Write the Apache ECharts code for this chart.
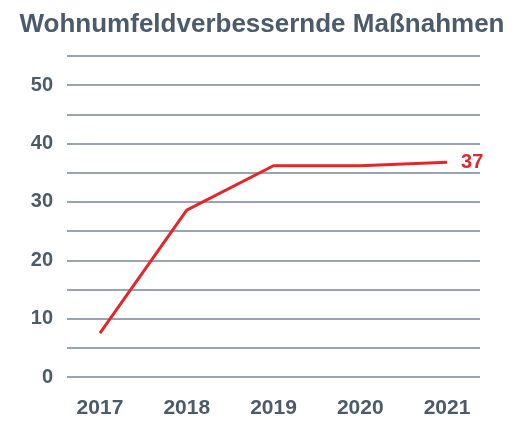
<!DOCTYPE html>
<html>
<head>
<meta charset="utf-8">
<script src="https://cdn.jsdelivr.net/npm/echarts@6/dist/echarts.min.js"></script>
<style>
html,body{margin:0;padding:0;background:#fff;}
#main{width:524px;height:421px;}
</style>
</head>
<body>
<div id="main"></div>
<script>
// Daten
var years = [2017, 2018, 2019, 2020, 2021];
var values = [7.5, 28.6, 36.2, 36.2, 36.8];
var lastLabel = '37';

var textColor = '#4b5b6b';
var gridColor = '#77869a';
var red = '#e4262b';

var chart = echarts.init(document.getElementById('main'));

var seriesData = [];
for (var i = 0; i < years.length; i++) {
    seriesData.push([years[i], values[i]]);
}

var option = {
    animation: false,
    title: {
        text: 'Wohnumfeldverbessernde Maßnahmen',
        left: 'center',
        top: 7,
        textStyle: {
            fontFamily: 'Liberation Sans',
            fontWeight: 'bold',
            fontSize: 26,
            color: textColor
        }
    },
    grid: {
        left: 67,
        right: 44,
        top: 56,
        bottom: 44
    },
    xAxis: {
        type: 'value',
        min: 2016.62,
        max: 2021.38,
        axisLine: { show: false },
        axisTick: { show: false },
        splitLine: { show: false },
        axisLabel: {
            customValues: years,
            margin: 21,
            fontFamily: 'Liberation Sans',
            fontWeight: 'bold',
            fontSize: 21,
            color: textColor,
            formatter: function (v) { return String(Math.round(v)); }
        }
    },
    yAxis: {
        type: 'value',
        min: 0,
        max: 55,
        interval: 5,
        axisLine: { show: false },
        axisTick: { show: false },
        splitLine: { lineStyle: { color: gridColor, width: 1.6 } },
        axisLabel: {
            margin: 14,
            fontFamily: 'Liberation Sans',
            fontWeight: 'bold',
            fontSize: 20,
            color: textColor,
            formatter: function (v) { return (v % 10 === 0 && v <= 50) ? String(v) : ''; }
        }
    },
    series: [{
        type: 'line',
        data: seriesData,
        symbol: 'none',
        lineStyle: { color: red, width: 3 },
        endLabel: {
            show: true,
            formatter: lastLabel,
            distance: 14,
            fontFamily: 'Liberation Sans',
            fontWeight: 'bold',
            fontSize: 20,
            color: red
        }
    }]
};

chart.setOption(option);
</script>
</body>
</html>
